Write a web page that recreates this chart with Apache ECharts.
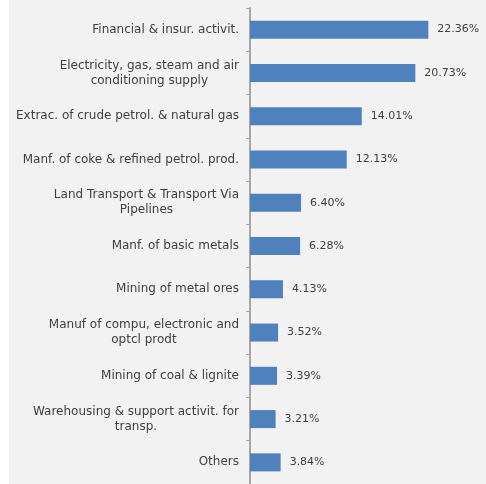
<!DOCTYPE html>
<html>
<head>
<meta charset="utf-8">
<script src="https://cdn.jsdelivr.net/npm/echarts@6/dist/echarts.min.js"></script>
<style>
html,body{margin:0;padding:0;background:#fff;}
#c{width:486px;height:484px;background:linear-gradient(to right,#ffffff 9px,#f2f2f2 9px);}
</style>
</head>
<body>
<div id="c"></div>
<script>
const categories = [
  "Financial & insur. activit.",
  "Electricity, gas, steam and air\nconditioning supply",
  "Extrac. of crude petrol. & natural gas",
  "Manf. of coke & refined petrol. prod.",
  "Land Transport & Transport Via\nPipelines",
  "Manf. of basic metals",
  "Mining of metal ores",
  "Manuf of compu, electronic and\noptcl prodt",
  "Mining of coal & lignite",
  "Warehousing & support activit. for\ntransp.",
  "Others"
];
const shares = [22.36, 20.73, 14.01, 12.13, 6.40, 6.28, 4.13, 3.52, 3.39, 3.21, 3.84];

const chart = echarts.init(document.getElementById('c'), null, {renderer: 'canvas'});
const FONT = 'DejaVu Sans';
chart.setOption({
  backgroundColor: 'transparent',
  animation: false,
  grid: {left: 250, top: 8, width: 199.4, bottom: 0, containLabel: false},
  xAxis: {
    type: 'value', min: 0, max: 25, show: false
  },
  yAxis: {
    type: 'category',
    data: categories,
    inverse: true,
    axisLine: {show: true, lineStyle: {color: '#a6a6a6', width: 2}},
    axisTick: {show: true, length: 4, inside: false, lineStyle: {color: '#a6a6a6', width: 1}},
    axisLabel: {
      margin: 11, color: '#404040', fontFamily: FONT, fontSize: 12, lineHeight: 15, align: 'right',
      formatter: v => v.split('\n').map(s => '{c|' + s + '}').join('\n'),
      rich: {c: {align: 'center', color: '#404040', fontFamily: FONT, fontSize: 12, lineHeight: 15}}
    },
    splitLine: {show: false}
  },
  series: [{
    type: 'bar',
    data: shares,
    barWidth: 18,
    itemStyle: {color: '#4f81bd'},
    label: {
      show: true, position: 'right', distance: 9,
      color: '#404040', fontFamily: FONT, fontSize: 11,
      formatter: p => p.value.toFixed(2) + '%'
    }
  }]
});
</script>
</body>
</html>
